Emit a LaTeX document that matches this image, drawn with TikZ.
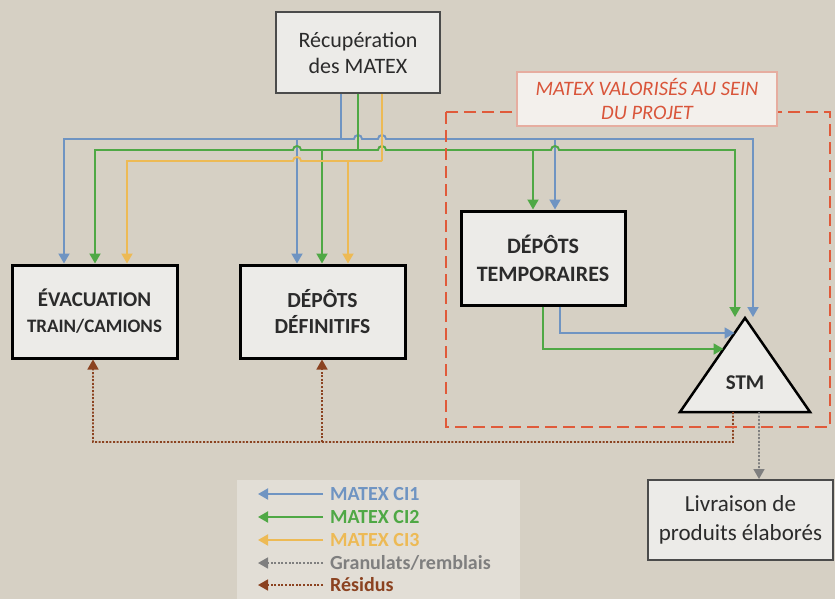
\documentclass[tikz,border=0pt]{standalone}
\usepackage{fontspec}
\setmainfont{Carlito}
\usetikzlibrary{arrows.meta,calc}

\definecolor{bgc}{HTML}{D6D0C4}
\definecolor{boxfill}{HTML}{ECEBE8}
\definecolor{ci1}{HTML}{6F94C2}
\definecolor{ci2}{HTML}{4FA845}
\definecolor{ci3}{HTML}{EDBA55}
\definecolor{grn}{HTML}{7F7F7F}
\definecolor{res}{HTML}{8B4220}
\definecolor{zone}{HTML}{E05A3A}
\definecolor{zonetxt}{HTML}{D9553A}
\definecolor{zonefill}{HTML}{F3F0EC}
\definecolor{zoneedge}{HTML}{E6ADA0}
\definecolor{legfill}{HTML}{E2DED6}
\definecolor{ink}{HTML}{2B2B2B}

\tikzset{
  srcbox/.style={draw=ink!85, line width=2pt, fill=boxfill, inner sep=0pt,
    align=center, text=ink},
  mainbox/.style={draw=black, line width=3pt, fill=boxfill, inner sep=0pt,
    align=center, text=ink, font=\bfseries},
  pipe/.style={line width=1.9pt},
  flow/.style={pipe, -{Triangle[width=11pt,length=10pt]}},
  dotflow/.style={line width=1.6pt, dash pattern=on 2pt off 1.6pt,
    -{Triangle[width=11pt,length=10pt]}},
  legtxt/.style={anchor=west, inner sep=0pt, font=\bfseries\fontsize{20}{22}\selectfont}
}

\begin{document}
\begin{tikzpicture}[x=1pt,y=-1pt]
\fill[bgc] (0,0) rectangle (835,599);
\useasboundingbox (0,0) rectangle (835,599);

% ---- boxes ----
\node[srcbox, minimum width=164pt, minimum height=81pt,
  font=\fontsize{22}{26}\selectfont] (recup) at (358,52.5) {Récupération\\des MATEX};
\node[mainbox, minimum width=165pt, minimum height=93pt,
  font=\bfseries\fontsize{21}{26}\selectfont] (evac) at (94.5,311.5)
  {ÉVACUATION\\\fontsize{19}{26}\selectfont TRAIN/CAMIONS};
\node[mainbox, minimum width=165pt, minimum height=93pt,
  font=\bfseries\fontsize{21.5}{26}\selectfont] (def) at (322.5,311.5) {DÉPÔTS\\DÉFINITIFS};
\node[mainbox, minimum width=164pt, minimum height=94pt,
  font=\bfseries\fontsize{22}{28}\selectfont] (temp) at (543,258) {DÉPÔTS\\TEMPORAIRES};
\node[srcbox, minimum width=185pt, minimum height=80pt,
  font=\fontsize{23}{29}\selectfont] (liv) at (740.5,520) {Livraison de\\produits élaborés};

% ---- STM triangle ----
\coordinate (apex) at (745,318);
\coordinate (tbl) at (680,412);
\coordinate (tbr) at (810,412);
\draw[line width=2.5pt, fill=boxfill] (apex) -- (tbr) -- (tbl) -- cycle;
\node[font=\bfseries\fontsize{21}{24}\selectfont, text=ink] (stm) at (745,383) {STM};

% ---- MATEX CI1 (blue) ----
\coordinate (bJ) at (341,139);
\draw[pipe, ci1] ([xshift=-17pt]recup.south) -- (bJ);
\draw[flow, ci1] (bJ) -| ([xshift=-30.5pt]evac.north);
\draw[flow, ci1] (bJ) -- (354,139) arc[start angle=180,end angle=0,radius=4pt]
  -- (378,139) arc[start angle=180,end angle=0,radius=4pt]
  -- (753,139) -- (753,317);
\coordinate (bD) at (297,139);
\draw[flow, ci1] (bD) -- ([xshift=-25.5pt]def.north);
\coordinate (bT) at (555,139);
\draw[flow, ci1] (bT) -- ([xshift=12pt]temp.north);

% ---- MATEX CI2 (green) ----
\coordinate (gJ) at (358,150);
\draw[pipe, ci2] (recup.south) -- (gJ);
\draw[flow, ci2] (gJ) -- (301,150) arc[start angle=0,end angle=180,radius=4pt]
  -| ([xshift=0.5pt]evac.north);
\draw[flow, ci2] (gJ) -- (378,150) arc[start angle=180,end angle=0,radius=4pt]
  -- (551,150) arc[start angle=180,end angle=0,radius=4pt]
  -- (735,150) -- (735,317);
\coordinate (gD) at (322,150);
\draw[flow, ci2] (gD) -- ([xshift=-0.5pt]def.north);
\coordinate (gT) at (533,150);
\draw[flow, ci2] (gT) -- ([xshift=-10pt]temp.north);

% ---- MATEX CI3 (yellow) ----
\coordinate (yJ) at (382,161);
\draw[pipe, ci3] ([xshift=24pt]recup.south) -- (yJ);
\draw[flow, ci3] (yJ) -- (301,161) arc[start angle=0,end angle=180,radius=4pt]
  -| ([xshift=32.5pt]evac.north);
\coordinate (yD) at (348,161);
\draw[flow, ci3] (yD) -- ([xshift=25.5pt]def.north);

% ---- from temporary storage to STM ----
\draw[flow, ci1] ([xshift=17pt]temp.south) |- ($(apex)!0.16!(tbl)$);
\draw[flow, ci2] (temp.south) |- ($(apex)!0.33!(tbl)$);

% ---- outputs of STM ----
\coordinate (sB) at ($(tbl)!0.408!(tbr)$);
\coordinate (rD) at (322,442);
\draw[dotflow, res] (sB) -- (733,442) -| ([xshift=-1.5pt]evac.south);
\draw[dotflow, res] (rD) -- ([xshift=-0.5pt]def.south);
\coordinate (sG) at ($(tbl)!0.608!(tbr)$);
\draw[dotflow, grn] (sG) -- ([xshift=18.5pt]liv.north);

% ---- project zone ----
\draw[zone, line width=2.5pt, dash pattern=on 12pt off 6pt] (446,112) rectangle (830,427);
\node[draw=zoneedge, line width=1.2pt, fill=zonefill, minimum width=260pt,
  minimum height=54pt, inner sep=0pt, align=center, text=zonetxt,
  font=\itshape\fontsize{20.5}{24}\selectfont] (zlabel) at (647,99)
  {MATEX VALORISÉS AU SEIN\\DU PROJET};

% ---- legend ----
\fill[legfill] (237,480) rectangle (520,602);
\coordinate (l1) at (323,494);
\coordinate (l2) at (323,517);
\coordinate (l3) at (323,540);
\coordinate (l4) at (323,563);
\coordinate (l5) at (323,585);
\draw[flow, ci1] (l1) -- ++(-65,0);
\draw[flow, ci2] (l2) -- ++(-65,0);
\draw[flow, ci3] (l3) -- ++(-65,0);
\draw[dotflow, grn] (l4) -- ++(-65,0);
\draw[dotflow, res] (l5) -- ++(-65,0);
\node[legtxt, text=ci1] (t1) at ([xshift=7pt]l1) {MATEX CI1};
\node[legtxt, text=ci2] (t2) at ([xshift=7pt]l2) {MATEX CI2};
\node[legtxt, text=ci3] (t3) at ([xshift=7pt]l3) {MATEX CI3};
\node[legtxt, text=grn] (t4) at ([xshift=7pt]l4) {Granulats/remblais};
\node[legtxt, text=res] (t5) at ([xshift=7pt]l5) {Résidus};
\end{tikzpicture}
\end{document}
